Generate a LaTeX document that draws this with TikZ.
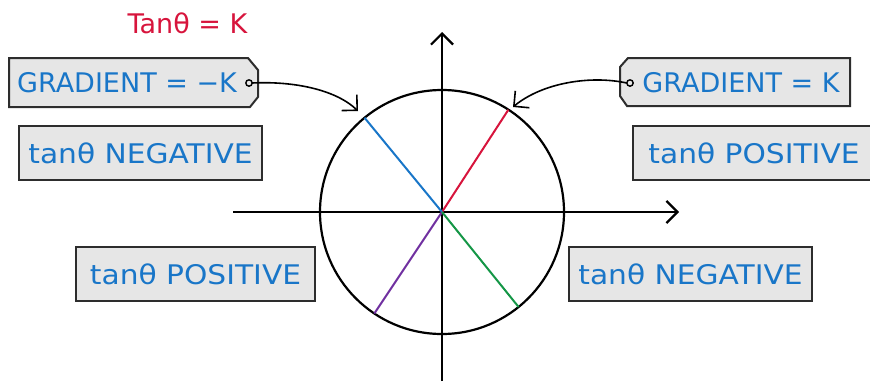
\documentclass[tikz,border=0pt]{standalone}
\usepackage{fontspec}
\setmainfont{DejaVu Sans}
\usetikzlibrary{arrows.meta}
\definecolor{tblue}{RGB}{25,118,200}
\definecolor{tred}{RGB}{215,20,60}
\definecolor{tpurple}{RGB}{112,48,160}
\definecolor{tgreen}{RGB}{20,150,70}
\definecolor{boxfill}{RGB}{230,230,230}
\definecolor{boxline}{RGB}{45,45,45}
\newcommand{\wtext}[1]{\scalebox{1.1}[1]{#1}}
\begin{document}
\begin{tikzpicture}[x=1pt,y=-1pt,
  lbl/.style={text=tblue,font=\fontsize{27}{30}\selectfont,inner sep=0pt},
  plainbox/.style={draw=boxline,fill=boxfill,line width=2pt,inner sep=0pt,text=tblue,font=\fontsize{27}{30}\selectfont,minimum height=54pt},
  frame/.style={draw=boxline,fill=boxfill,line width=2pt,line join=miter},
  axisline/.style={line width=2.2pt,-{Straight Barb[length=11pt,width=22pt,line width=2.2pt]}},
  conn/.style={line width=1.6pt,-{Straight Barb[length=11pt,width=22pt,line width=1.6pt]}},
  ray/.style={line width=2pt}]
\useasboundingbox (0,0) rectangle (870,381);
% title
\node[text=tred,font=\fontsize{27}{30}\selectfont,inner sep=0pt] (title) at (187.5,23) {Tanθ = K};
% axes and circle
\coordinate (O) at (442,212);
\coordinate (xL) at (233,212);
\coordinate (xR) at (679,212);
\coordinate (yB) at (442,381);
\coordinate (yT) at (442,32);
\draw[line width=2.2pt] (O) circle[radius=122];
\draw[axisline] (xL) -- (xR);
\draw[axisline] (yB) -- (yT);
% rays
\coordinate (pR) at (508.4,109.7);
\coordinate (pB) at (364.5,117.7);
\coordinate (pP) at (374.3,313.5);
\coordinate (pG) at (518.6,307.0);
\draw[ray,tred] (O) -- (pR);
\draw[ray,tblue] (O) -- (pB);
\draw[ray,tpurple] (O) -- (pP);
\draw[ray,tgreen] (O) -- (pG);
% left tag
\path[frame] (9,58) -- (248,58) -- (258,70) -- (258,97) -- (250,107) -- (9,107) -- cycle;
\node[lbl] (gradL) at (127,83) {GRADIENT = −K};
\coordinate (holeL) at (249,83);
\draw[line width=1.4pt,fill=boxfill] (holeL) circle[radius=3.2];
% right tag
\path[frame] (628,58) -- (850,58) -- (850,106) -- (627,106) -- (620,96) -- (620,67) -- cycle;
\node[lbl] (gradR) at (741,83) {GRADIENT = K};
\coordinate (holeR) at (630,83);
\draw[line width=1.4pt,fill=boxfill] (holeR) circle[radius=3.2];
% connectors
\coordinate (tipL) at (358,111);
\coordinate (tipR) at (513,107);
\draw[conn] (holeL) ++(3.2,0) .. controls (292,81) and (335,89) .. (tipL);
\draw[conn] (holeR) ++(-3.2,0) .. controls (590,75) and (542,83) .. (tipR);
% boxes
\node[plainbox,minimum width=243pt] (negL) at (140.5,153) {\wtext{tanθ NEGATIVE}};
\node[plainbox,minimum width=239pt] (posL) at (195.5,274) {\wtext{tanθ POSITIVE}};
\node[plainbox,minimum width=243pt] (negR) at (690.5,274) {\wtext{tanθ NEGATIVE}};
\fill[boxfill] (633,126) rectangle (870,180);
\draw[boxline,line width=2pt] (872,126) -- (633,126) -- (633,180) -- (872,180);
\node[lbl] (posR) at (754,153) {\wtext{tanθ POSITIVE}};
\end{tikzpicture}
\end{document}
